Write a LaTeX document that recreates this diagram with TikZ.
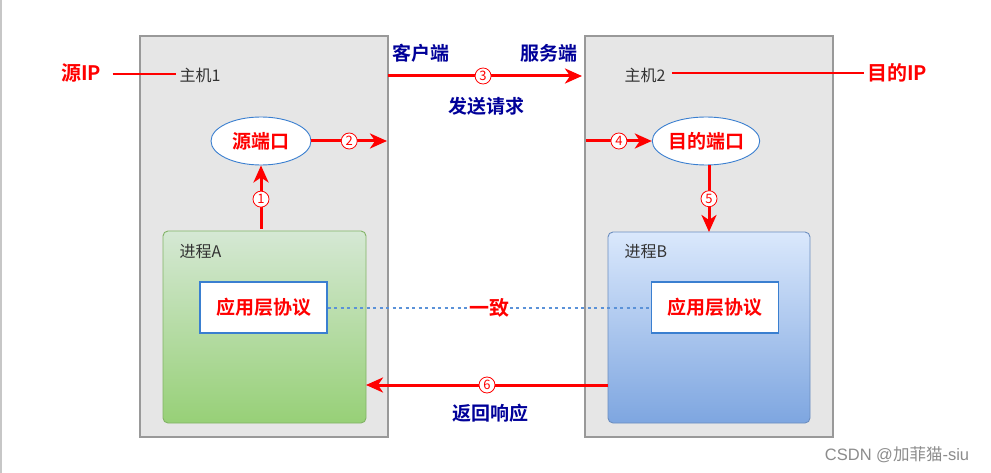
\documentclass[tikz,border=0pt]{standalone}
\usepackage{fontspec}
\newfontfamily\cjk{Noto Sans CJK SC}
\newfontfamily\cjkb{Noto Sans CJK SC Bold}
\newfontfamily\wmfont{Liberation Sans}
\usetikzlibrary{arrows.meta,shapes.geometric,positioning}
\definecolor{hostfill}{HTML}{E6E6E6}
\definecolor{hostdraw}{HTML}{999999}
\definecolor{navy}{HTML}{000099}
\definecolor{redc}{HTML}{FF0000}
\definecolor{gtop}{HTML}{D5E8D4}
\definecolor{gbot}{HTML}{97D077}
\definecolor{gdraw}{HTML}{82B366}
\definecolor{btop}{HTML}{DAE8FC}
\definecolor{bbot}{HTML}{7EA6E0}
\definecolor{bdraw}{HTML}{6C8EBF}
\definecolor{protodraw}{HTML}{3A7FD0}
\definecolor{dotc}{HTML}{5B92D8}
\begin{document}
\begin{tikzpicture}[x=1pt,y=-1pt,
  host/.style={draw=hostdraw,fill=hostfill,line width=1.3pt},
  redlabel/.style={font=\cjkb\fontsize{20}{22}\selectfont,text=redc},
  navylabel/.style={font=\cjkb\fontsize{19}{21}\selectfont,text=navy},
  plain/.style={font=\cjk\fontsize{16}{18}\selectfont,text=black!80},
  port/.style={ellipse,draw=protodraw,fill=white,line width=0.9pt,minimum width=100pt,minimum height=48pt,inner sep=0pt,font=\cjkb\fontsize{19}{21}\selectfont,text=redc},
  proto/.style={rectangle,draw=protodraw,fill=white,line width=1.1pt,minimum width=127pt,minimum height=51pt,inner sep=0pt,font=\cjkb\fontsize{19}{21}\selectfont,text=redc},
  num/.style={circle,draw=redc,fill=white,line width=0.8pt,minimum size=16pt,inner sep=0pt,font=\cjk\fontsize{13}{14}\selectfont,text=redc},
  flow/.style={draw=redc,line width=3pt,-{Stealth[length=17pt,width=15pt,inset=5pt]}},
  thin/.style={draw=redc,line width=2pt}
]
\useasboundingbox (0,0) rectangle (991,473);
\fill[white] (0,0) rectangle (991,473);
\draw[draw=black!22,line width=1.5pt] (1,0) -- (1,473);

% hosts
\draw[host] (140,36) rectangle (388,437);
\draw[host] (585,36) rectangle (833,437);

% processes
\shade[top color=gtop,bottom color=gbot,rounded corners=5pt] (163,231) rectangle (366,423);
\draw[draw=gdraw,line width=0.9pt,rounded corners=5pt] (163,231) rectangle (366,423);
\shade[top color=btop,bottom color=bbot,rounded corners=5pt] (608,232) rectangle (810,423);
\draw[draw=bdraw,line width=0.9pt,rounded corners=5pt] (608,232) rectangle (810,423);

\node[plain,anchor=west] (pa) at (176,252) {进程A};
\node[plain,anchor=west] (pb) at (621,252) {进程B};

% protocol boxes
\node[proto] (protoA) at (263.5,307.5) {应用层协议};
\node[proto] (protoB) at (715,307.5) {应用层协议};
\draw[draw=dotc,line width=2pt,dash pattern=on 3pt off 3.5pt] (protoA.east) -- (protoB.west)
  node[pos=0.5,fill=white,inner sep=1pt,redlabel] (agree) {一致};

% host labels and IP
\node[plain,anchor=west] (h1) at (176,75) {主机1};
\node[plain,anchor=west] (h2) at (621,75) {主机2};
\node[redlabel] (srcip) at (81,73) {源IP};
\node[redlabel] (dstip) at (897,73) {目的IP};
\draw[thin] (srcip.east) ++(8,1) coordinate (s1) -- (h1.west |- s1);
\draw[thin] (h2.east) ++(3,-2) coordinate (d1) -- (dstip.west |- d1);

% ports
\node[port] (sport) at (261,141) {源端口};
\node[port] (dport) at (706,141) {目的端口};

% arrow 1
\coordinate (a1s) at (261,229);
\draw[flow] (a1s) -- (sport.south) node[pos=0.47,num] (n1) {1};
% arrow 2
\coordinate (a2e) at (387,141);
\draw[flow] (sport.east) -- (a2e) node[pos=0.5,num] (n2) {2};
% arrow 3
\coordinate (a3s) at (388,76);
\coordinate (a3e) at (582,76);
\draw[flow] (a3s) -- (a3e) node[pos=0.49,num] (n3) {3};
\node[navylabel] (client) at (421,53) {客户端};
\node[navylabel] (server) at (549,53) {服务端};
\node[navylabel] (send) at (486,106) {发送请求};
% arrow 4
\coordinate (a4s) at (586,141);
\draw[flow] (a4s) -- (dport.west) node[pos=0.5,num] (n4) {4};
% arrow 5
\coordinate (a5e) at (709,232);
\draw[flow] (dport.south -| a5e) -- (a5e) node[pos=0.5,num] (n5) {5};
% arrow 6
\coordinate (a6s) at (608,385);
\coordinate (a6e) at (366,385);
\draw[flow] (a6s) -- (a6e) node[pos=0.5,num] (n6) {6};
\node[navylabel] (resp) at (490,413) {返回响应};

% watermark
\node[font=\wmfont\fontsize{16.5}{18}\selectfont,text=black!45] (wm) at (897,455) {CSDN @{\cjk 加菲猫}-siu};
\end{tikzpicture}
\end{document}
